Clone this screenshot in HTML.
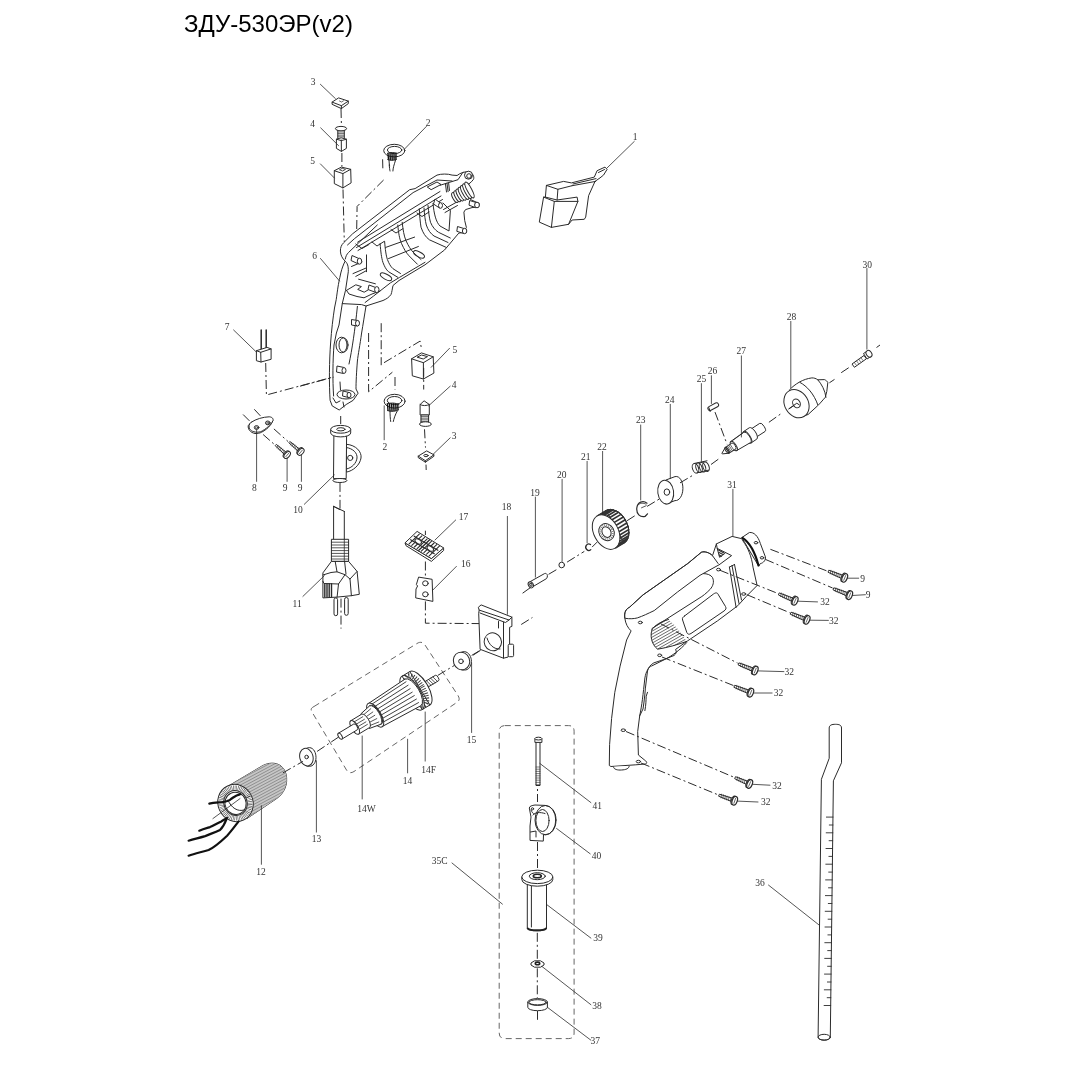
<!DOCTYPE html>
<html><head><meta charset="utf-8">
<style>
html,body{margin:0;padding:0;background:#fff;width:1071px;height:1071px;overflow:hidden}
.title{position:absolute;left:184px;top:10px;font-family:"Liberation Sans",sans-serif;font-size:24px;color:#000;letter-spacing:0px}
svg{position:absolute;left:0;top:0}
body{filter:grayscale(1)}
.l{stroke:#2b2b2b;stroke-width:1;fill:none;stroke-linejoin:round;stroke-linecap:round}
.f{stroke:#2b2b2b;stroke-width:1;fill:#fff;stroke-linejoin:round}
.d{stroke:#2b2b2b;stroke-width:1;fill:none;stroke-dasharray:9 3 2 3}
.h{stroke:#333;fill:none;stroke-linecap:butt}
.g{stroke:#555;stroke-width:0.9;fill:none;stroke-dasharray:6 4}
text{font-family:"Liberation Serif",serif;font-size:9.5px;fill:#333}
</style></head><body>
<div class="title">ЗДУ-530ЭР(v2)</div>
<svg width="1071" height="1071" viewBox="0 0 1071 1071">
<g id="p3top">
<path class="f" d="M332.1,102.1 L338.6,97.9 L348.3,101.1 L341.4,105.7 Z"/>
<path class="l" d="M332.1,102.1 L332.1,104.3 L341.4,108.6 L348.3,103.6 L348.3,101.1 M341.4,105.7 L341.4,108.6"/>
<path style="stroke-width:0.7" class="l" d="M339.5,101 l2,1 l2,-1.2"/>
</g>
<g id="p4top">
<ellipse class="f" cx="341" cy="128.6" rx="5.6" ry="2.2"/>
<path class="l" d="M337.8,130.5 L337.8,138.5 M344.3,130.5 L344.3,138.5"/>
<path style="stroke-width:0.7" class="l" d="M338,132 h6 M338,133.6 h6 M338,135.2 h6 M338,136.8 h6"/>
<path class="f" d="M336.4,139.2 L341.2,137.8 L346.4,139.2 L346.4,148.4 L341.4,151.4 L336.4,148.4 Z"/>
<path class="l" d="M341.3,140 L341.4,151.4 M336.4,139.2 L341.3,140.6 L346.4,139.2"/>
</g>
<g id="p5top">
<path class="f" d="M334.3,170.7 L341.4,167.1 L350.7,169.3 L351.1,182.9 L342.9,187.9 L334.3,183.6 Z"/>
<path class="l" d="M334.3,170.7 L342.9,173.6 L350.7,169.3 M342.9,173.6 L342.9,187.9"/>
<path style="stroke-width:0.8" class="l" d="M339.8,169.6 L342.2,168.3 L345.5,169.4 L343,170.8 Z"/>
</g>
<g id="p2top">
<ellipse class="l" cx="394.3" cy="150.6" rx="10.6" ry="6.3"/>
<ellipse class="l" cx="394.6" cy="150" rx="7.2" ry="3.6"/>
<path class="l" d="M389.2,165 C389.5,168 389.8,170 390,171 M395.6,160 C394,165 393,168 392.9,171 M389,160 C389,162 389.3,164 389.6,166"/>
<path style="stroke-width:1.4;stroke:#111" class="l" d="M388,153.5 L388.5,159.5 M390,153 L390.3,159.8 M392,153.3 L392.2,160 M394,153.5 L394.1,159.8 M396,153.3 L395.9,159.3"/>
<path class="l" d="M387.5,153.3 C390,152 395,152.3 397,153.5 M387.7,159.6 C390,160.6 394,160.6 396.5,159.3"/>
</g>
<g id="labels_top">
<text x="313" y="84.5" text-anchor="middle">3</text>
<text x="312.6" y="127.4" text-anchor="middle">4</text>
<text x="312.6" y="163.7" text-anchor="middle">5</text>
<text x="428.2" y="125.5" text-anchor="middle">2</text>
<path style="stroke-width:0.8" class="l" d="M320.4,84.3 L335.4,98.6 M320.7,127.9 L338.6,145.7 M320.4,163.9 L334.3,177.9 M426.4,126.4 L404.3,149.3"/>
<path class="d" d="M341,109 L341.4,124.5 M341.9,153 L341.9,166.5 M343,189.5 L344.3,242"/>
<path class="d" d="M382.6,159.3 L382.9,170.5 M383.6,180 L357.1,206.4 L356.3,251"/>
</g>

<g id="p6">
<!-- outer outline -->
<path class="f" d="M332.2,405.9 L330.1,400.3 C329,385 329.3,360 330.6,343 C331.5,330 333,318 334.5,308 L336.2,299.7 C337.5,290 338.5,283 339.9,277.3 C341,271 342.5,267 344.2,263 C344.8,262 345.2,261.5 345,261 C342.5,258.5 340.6,255.5 340.4,251.1 C340.3,247.5 341.5,244.8 343.7,242.7 L352.6,233.8 L409.7,189.7 L415.1,188.6 L437,175.1 C441,173.8 448,173.6 452.1,175.1 L457.1,175.5 C460,173 465,171.3 469,171.8 C473,173 474.5,177 473.5,179.3 L471.4,181.8 L467,185.5 L470.5,199.5 L479.2,203.5 L478.6,207 L472,207.6 L465.5,209.6 L463.9,212.1 L464.7,220.5 L466.4,227.5 L463,232.5 L458.8,233.1 L444.5,250 L425,264.8 L399,280.5 L393,285.5 C392.2,289 392,292 391,294.5 C389,297.5 386,299.2 383,300.5 L366,306 C364.5,315 363,325 361.6,333 C360,345 358,355 357.4,361 C356.5,372 356,382 356,389 L358.1,393.2 L353.2,400.3 L346.2,404.5 L339.2,410 Z"/>
<!-- inner handle line -->
<path class="l" d="M333.6,396 C332.5,380 332.8,360 334,345 L336.4,333 L339,325 L342.3,303.4 L345.5,290.4 L348.3,271.7 C348.5,266 347.5,263 345,261"/>
<path class="l" d="M342.3,303.6 L361.6,304.6 L366,306"/>
<!-- inner right line of handle -->
<path class="l" d="M357.4,306.4 C355,330 352,350 349,364"/>
<!-- top rim inner lines -->
<path class="l" d="M345.3,259 C345.8,256 346.8,254.3 348.5,252.5 L377.3,225"/>
<path class="l" d="M347.5,245 L354.3,238.8 L413.1,192.6 L437,180 L452,181"/>
<!-- rail lines -->
<path class="l" d="M357.6,242.2 L440,191.5 M356.5,247.5 L441,196 M358,250.5 L442.5,199.5"/>
<path class="l" d="M355.8,244 L362,248.5 L369,244.5 M372,242 L377,246 L384,241.5 M391,229.5 L396,233 L403,228.6 M417,213 L422,216.5 L429,212"/>
<path class="l" d="M427.6,186.8 L437,182 L441,184.5 L431.5,189.5 Z"/>
<!-- ribs -->
<path class="l" d="M380.1,243.7 C380.8,252 381.5,258 382.9,262.3 C384.5,266.5 386,269.5 388.5,271.7 L397.8,277.3"/>
<path class="l" d="M384.6,241.5 C385.3,249.5 386,255.5 387.4,259.5 C389,263.5 390.5,266.5 393,268.7 L400.5,273.5"/>
<path class="l" d="M397.8,225 C398.5,233 399.5,239 401.6,243.7 C404,249 406,252.5 409,255.8 L417.4,264.2"/>
<path class="l" d="M402.2,222.3 C403,230 404,236 406,240.7 C408.5,246 410.5,249.5 413.5,252.6 L421,259.5"/>
<path class="l" d="M419.3,208.7 C419.6,216 420.2,222 421,227.2 C423,233 425.5,237 429.4,239.8 L446.2,247.4"/>
<path class="l" d="M424,208 C424.5,215 425.2,220.5 426.3,225 C428,230 430.5,233.5 434,236 L448,242.5"/>
<path class="l" d="M428,205.5 C428.6,212.5 429.3,218 430.5,222.3 C432.5,227 435,230 438.5,232.3 L450.3,238"/>
<path class="l" d="M433,203.5 C434,214 436,222 440,226 L449,231 L450.4,210.4 L443,203"/>
<!-- cross lines -->
<path class="l" d="M385.7,247.4 L414.6,237.1 M388.5,258.6 L418.4,246.5 M366.5,254.9 L366.5,271.7"/>
<!-- slot ovals -->
<ellipse class="l" cx="386" cy="276.8" rx="6.3" ry="2.6" transform="rotate(28 386 276.8)"/>
<ellipse class="l" cx="419" cy="254.4" rx="6" ry="2.5" transform="rotate(28 419 254.4)"/>
<!-- lower lip inner line -->
<path class="l" d="M425,262.3 L399.7,277.3 L390.4,282.9 L373.6,296 L365.1,302.5"/>
<!-- platform -->
<path class="l" d="M346.5,290.4 L355.8,284.8 L361.4,286.6 L357.7,289.4 L364.2,292.2 L368,290 M346.5,290.4 L349,294 L357,296.5 L364,297.8 L372,294 L380,291"/>
<path class="l" d="M358.6,279.2 L375.4,283.8"/>
<path class="l" d="M353,273.6 L366.1,268 M355.8,276.4 L366.1,270.8 M351.5,266.5 L362,262"/>
<!-- bosses -->
<path class="f" d="M352,255.5 L360,259 L358.5,264 L351,260.5 Z"/>
<ellipse class="f" cx="359.5" cy="261.2" rx="2.2" ry="3"/>
<path class="f" d="M369,285 L377,288 L376,292.5 L368,289.5 Z"/>
<ellipse class="f" cx="376.8" cy="289.6" rx="2.2" ry="3"/>
<path class="f" d="M435,199 L441,203.5 L439.5,208 L433.5,204 Z"/>
<ellipse class="f" cx="440.5" cy="205.5" rx="2" ry="2.8"/>
<path class="f" d="M469.7,200.5 L477,202.8 L476,207.8 L469,205.2 Z"/>
<ellipse class="f" cx="477" cy="205" rx="2.4" ry="2.8"/>
<path class="f" d="M457.5,226.5 L464.8,228.8 L464,233.6 L456.8,231.3 Z"/>
<ellipse class="f" cx="464.6" cy="231" rx="2.2" ry="2.7"/>
<circle class="f" cx="468.5" cy="175.2" r="4"/>
<circle class="l" cx="469" cy="176" r="2.3"/>
<!-- bellows -->
<ellipse class="f" cx="455.0" cy="197.5" rx="2.3" ry="5.5" transform="rotate(-28 455.0 197.5)"/>
<ellipse class="f" cx="457.4" cy="196.2" rx="2.3" ry="6.0" transform="rotate(-28 457.4 196.2)"/>
<ellipse class="f" cx="459.8" cy="195.0" rx="2.3" ry="6.6" transform="rotate(-28 459.8 195.0)"/>
<ellipse class="f" cx="462.2" cy="193.8" rx="2.3" ry="7.2" transform="rotate(-28 462.2 193.8)"/>
<ellipse class="f" cx="464.7" cy="192.5" rx="2.3" ry="7.7" transform="rotate(-28 464.7 192.5)"/>
<ellipse class="f" cx="467.1" cy="191.2" rx="2.3" ry="8.2" transform="rotate(-28 467.1 191.2)"/>
<ellipse class="f" cx="469.5" cy="190.0" rx="2.3" ry="8.8" transform="rotate(-28 469.5 190.0)"/>
<path class="l" d="M443.5,209.5 L456,202.5 M445,212.5 L457.5,205.5"/>
<path class="l" d="M445.4,183.5 L446.5,192 M447,183.2 L448.1,191.7 M448.6,183 L449.5,190.5"/>
<path class="l" d="M440.3,185.2 L458,179.7 L463,172.2"/>
<!-- handle bosses & ring -->
<path class="f" d="M351.5,319.5 L357.5,320.5 L357.5,326 L351.5,325 Z"/>
<ellipse class="f" cx="357.5" cy="323.2" rx="2" ry="2.8"/>
<ellipse class="f" cx="341.5" cy="345" rx="5.5" ry="7.8"/>
<ellipse class="l" cx="343.5" cy="345" rx="4.5" ry="7.2"/>
<path class="f" d="M337,366 L344,367.5 L343.5,373.5 L336.5,372 Z"/>
<ellipse class="f" cx="344" cy="370.5" rx="2" ry="2.9"/>
<path class="l" d="M340,382 L340.5,390"/>
<ellipse class="f" cx="346" cy="394.5" rx="9" ry="4.5"/>
<path class="f" d="M343,391 L349,392.5 L348.5,397.5 L342.5,396 Z"/>
<ellipse class="f" cx="349" cy="395" rx="2" ry="2.6"/>
<path class="l" d="M333,398 L336,403 L340,401 M343,402 L344,407"/>
</g>
<g id="p6labels">
<text x="314.5" y="258.5" text-anchor="middle">6</text>
<path style="stroke-width:0.8" class="l" d="M320.5,258.5 L339.5,281"/>
<path class="d" d="M300,386.2 L333.6,377.1"/>
<path class="d" d="M368.6,333 L368.6,391.8 L392.4,372.2"/>
<path class="d" d="M381.2,323.2 L381.2,365.2 M384,362.7 L420.1,341.1 L421.4,348.3"/>
</g>

<g id="p5low">
<path class="f" d="M411.6,358.8 L421.4,352.9 L433.2,356.8 L433.9,373.1 L423.4,379 L412.3,375.8 Z"/>
<path class="l" d="M411.6,358.8 L423.4,362.7 L433.2,356.8 M423.4,362.7 L423.4,379"/>
<path class="l" d="M417.5,357 L421.5,355 L427.5,356.6 L423.6,358.8 Z"/>
<text x="454.8" y="353" text-anchor="middle">5</text>
<path style="stroke-width:0.8" class="l" d="M449.5,348.3 L431.2,367.3"/>
</g>
<g id="p4low">
<path class="f" d="M420.1,404.5 L424.1,400.8 L429.3,404.5 L429.3,415 L420.1,415 Z"/>
<path class="l" d="M420.1,404.5 C422,406 427,406 429.3,404.5"/>
<path class="f" d="M421,415 L428.6,415 L428.6,422.8 L421,422.8 Z"/>
<path style="stroke-width:0.7" class="l" d="M421,416.6 h7.6 M421,418.2 h7.6 M421,419.8 h7.6 M421,421.4 h7.6"/>
<ellipse class="f" cx="425.4" cy="424.1" rx="5.9" ry="2.3"/>
<text x="454.1" y="388.3" text-anchor="middle">4</text>
<path style="stroke-width:0.8" class="l" d="M450.2,386.2 L428.6,405.8"/>
</g>
<g id="p3low">
<path class="f" d="M418.2,456.1 L426.7,450.9 L433.9,454.8 L433.9,456.3 L425.4,462.2 L418.2,457.6 Z"/>
<path class="l" d="M418.2,456.1 L425.4,460.7 L433.9,454.8 M425.4,460.7 L425.4,462.2"/>
<ellipse class="l" cx="426" cy="455.6" rx="2.2" ry="1.1"/>
<text x="454.1" y="439.3" text-anchor="middle">3</text>
<path style="stroke-width:0.8" class="l" d="M450.2,437.8 L433.2,454.2"/>
</g>
<g id="p2low">
<ellipse class="l" cx="394.6" cy="401.2" rx="10.5" ry="6.9"/>
<ellipse class="l" cx="394.6" cy="400.5" rx="7.3" ry="4"/>
<path style="stroke-width:1.4;stroke:#111" class="l" d="M387.5,404 L388,410.5 M389.5,403.6 L390,411 M391.6,403.6 L392,411 M393.7,403.8 L394,410.8 M395.8,404 L396,410.5 M397.8,404.3 L398,409.8"/>
<path class="l" d="M387,403.8 C391,402.5 396,402.8 399,404.5 M387.5,410.5 C391,411.8 396,411.5 398.5,409.8"/>
<path class="l" d="M390,411 C390,415 390.3,419 390.7,421.5 M397.3,411 C395,415 393.8,419 393.3,421.5"/>
<text x="384.8" y="449.6" text-anchor="middle">2</text>
<path style="stroke-width:0.8" class="l" d="M384.2,405.8 L384.2,439.8"/>
</g>
<path class="d" d="M423.7,367.9 L423.7,389.5 M424.5,429.3 L425.5,447.6 M426,464.6 L426.2,470 M395,377 L395,389.5"/>

<g id="p7">
<path style="stroke-width:1.5" class="l" d="M261.2,330 L261.2,349 M266.2,330 L266.2,348.5"/>
<path class="f" d="M256.4,350.7 L267.1,347.4 L271.1,348.9 L271.1,359.3 L261,362 L256.4,360.7 Z"/>
<path class="l" d="M256.4,350.7 L260.7,352.3 L271.1,348.9 M260.7,352.3 L261,362"/>
<text x="227.1" y="329.8" text-anchor="middle">7</text>
<path style="stroke-width:0.8" class="l" d="M233.6,330 L256.4,352.1"/>
<path class="d" d="M265.7,363 L266.4,395 L332.9,377.1"/>
</g>
<g id="p8">
<path class="f" d="M248.2,425.7 C247.8,429 250,432.5 255,433.5 C258,433.6 260,433 261.5,432.3 C266,430 271,426 273,420.5 L251,422.4 Z"/>
<path class="f" d="M251,422.4 C256,419 263,417 269.2,416.8 C272.5,417 273.5,419 273,420.5 C271,425 266,429 260.8,431.7 C256,433 251,431.5 249.6,428.9 C248.5,426.5 249,424 251,422.4 Z"/>
<ellipse class="l" cx="256.6" cy="427.5" rx="2.3" ry="1.9"/>
<ellipse style="stroke-width:0.7" class="l" cx="256.6" cy="427.7" rx="1.2" ry="0.9"/>
<ellipse class="l" cx="267.8" cy="422.9" rx="2.3" ry="1.9"/>
<ellipse style="stroke-width:0.7" class="l" cx="267.8" cy="423.1" rx="1.2" ry="0.9"/>
<path class="d" d="M243.1,414.5 L250.1,421.5 M254.3,409.3 L260.8,416.3 M263.1,434.5 L275,445 M273.9,428.9 L288,441.5"/>
<path style="stroke-width:0.8" class="l" d="M256.6,429.9 L256.6,481.4"/>
<text x="254.3" y="491.2" text-anchor="middle">8</text>
</g>
<g id="p9left">
<path class="f" d="M276.3,444.4 L288.1,453.9 L286.3,456.1 L275.1,445.6 Z"/>
<path style="stroke-width:0.6" class="l" d="M278.1,445.3 l-1.2,2.6 M279.6,446.6 l-1.2,2.6 M281.1,447.9 l-1.2,2.6 M282.7,449.2 l-1.2,2.6 M284.2,450.5 l-1.2,2.6 M285.7,451.8 l-1.2,2.6 "/>
<ellipse class="f" cx="286.3" cy="454.2" rx="2.2" ry="4" transform="rotate(41.0 286.3 454.2)"/>
<ellipse class="f" cx="287.2" cy="455.0" rx="2.4" ry="4" transform="rotate(41.0 287.2 455.0)"/>
<path style="stroke-width:0.7" class="l" d="M288.8,453.2 l-3.1,3.6"/>
<path class="f" d="M289.8,441.5 L301.8,450.8 L300.0,453.0 L288.8,442.7 Z"/>
<path style="stroke-width:0.6" class="l" d="M291.7,442.3 l-1.2,2.7 M293.3,443.6 l-1.2,2.7 M294.8,444.9 l-1.2,2.7 M296.3,446.2 l-1.2,2.7 M297.8,447.5 l-1.2,2.7 M299.4,448.8 l-1.2,2.7 "/>
<ellipse class="f" cx="300.0" cy="451.1" rx="2.2" ry="4" transform="rotate(40.2 300.0 451.1)"/>
<ellipse class="f" cx="300.9" cy="451.9" rx="2.4" ry="4" transform="rotate(40.2 300.9 451.9)"/>
<path style="stroke-width:0.7" class="l" d="M302.4,450.1 l-3.1,3.7"/>
<path style="stroke-width:0.8" class="l" d="M287.1,458.6 L287.1,481.4 M301.4,455 L301.4,481.4"/>
<text x="285.2" y="491.2" text-anchor="middle">9</text>
<text x="300.2" y="491.2" text-anchor="middle">9</text>
</g>
<g id="p10">
<path class="f" d="M346.4,444.3 C356,445 362,452 361,458 C360,465 353,471 346.4,472.1 Z"/>
<path class="l" d="M346.4,447.5 C353,448.5 357.5,453 357,458 C356.5,463 352,468 346.4,469"/>
<circle class="l" cx="350.2" cy="457.9" r="2.6"/>
<path class="f" d="M333.9,433.6 L346.6,433.6 L346.2,478.6 L333.5,478.6 Z"/>
<ellipse class="f" cx="339.9" cy="480.5" rx="7" ry="2"/>
<path class="f" d="M330.7,429.3 L330.7,433 A10,3.9 0 0 0 350.7,433 L350.7,429.3 Z"/>
<ellipse class="f" cx="340.7" cy="429.3" rx="10" ry="3.9"/>
<ellipse class="l" cx="340.9" cy="429.3" rx="4.2" ry="1.6"/>
<path class="d" d="M340,482.9 L340,508.6 M340.7,416 L340.7,424"/>
<path style="stroke-width:0.8" class="l" d="M334.3,475 L304.3,504.3"/>
<text x="298" y="512.6" text-anchor="middle">10</text>
</g>
<g id="p11">
<path class="l" d="M333.6,506.4 L333.6,539.3 M344.3,511.4 L344.3,539.3 M333.6,506.4 L344.3,511.4 M333.6,506.4 L339.7,509.5"/>
<path class="f" d="M331.4,539.3 L348.6,539.3 L348.6,561.4 L331.4,561.4 Z"/>
<path style="stroke-width:0.8" class="l" d="M331.4,542.2 h17.2 M331.4,545 h17.2 M331.4,547.8 h17.2 M331.4,550.6 h17.2 M331.4,553.4 h17.2 M331.4,556.2 h17.2 M331.4,559 h17.2 M344.3,539.3 V561.4"/>
<path class="f" d="M331.4,561.4 L348.6,561.4 L357.1,571.4 L359.3,594.3 L351.4,595.7 L337.1,597.1 L322.9,597.9 L322.9,572.9 Z"/>
<path class="l" d="M322.9,575 L331,572.5 L337,571.8 L345,574.7 L350,579 L351.4,595.7 M337,571.8 L335.2,561.4 M344.6,561.4 L346,574 M350,579 L357.1,571.4 M345,574.7 L338.5,584 L337.1,597.1 M338.5,584 L324,583.5 L322.9,581.3"/>
<path style="stroke-width:1.4" class="l" d="M324.8,584.5 L324.8,597 M327,584 L327,597 M329.2,583.8 L329.2,597 M331.5,583.8 L331.5,597"/>
<rect class="f" x="334" y="597.9" width="3.6" height="17.8" rx="1.8"/>
<rect class="f" x="344.6" y="597.5" width="3.6" height="17.8" rx="1.8"/>
<path class="d" d="M341,598.6 L341,628.6"/>
<path style="stroke-width:0.8" class="l" d="M302.9,596.4 L324.3,575.7"/>
<text x="297.1" y="607" text-anchor="middle">11</text>
</g>

<defs><clipPath id="statclip"><path d="M225,788 L262,766 C272,760.5 283,763 286,774 C288.5,784 284,794 276,799 L247,818.5 Z"/></clipPath></defs>
<g id="p12">
<!-- stator cylinder -->
<path class="f" d="M225,788 L262,766 C272,760.5 283,763 286,774 C288.5,784 284,794 276,799 L247,818.5 Z"/>
<path d="M225,788 L262,766 C272,760.5 283,763 286,774 C288.5,784 284,794 276,799 L247,818.5 Z" fill="#c6c6c6" stroke="none"/><g clip-path="url(#statclip)"><path d="M196.96,778.69 L276.42,736.44 M198.18,780.99 L277.64,738.73 M199.40,783.28 L278.86,741.03 M200.62,785.58 L280.09,743.33 M201.84,787.87 L281.31,745.62 M203.06,790.17 L282.53,747.92 M204.28,792.47 L283.75,750.21 M205.50,794.76 L284.97,752.51 M206.72,797.06 L286.19,754.80 M207.94,799.35 L287.41,757.10 M209.16,801.65 L288.63,759.40 M210.38,803.94 L289.85,761.69 M211.61,806.24 L291.07,763.99 M212.83,808.53 L292.29,766.28 M214.05,810.83 L293.51,768.58 M215.27,813.13 L294.73,770.87 M216.49,815.42 L295.95,773.17 M217.71,817.72 L297.17,775.47 M218.93,820.01 L298.39,777.76 M220.15,822.31 L299.62,780.06 M221.37,824.60 L300.84,782.35 M222.59,826.90 L302.06,784.65 M223.81,829.20 L303.28,786.94 M225.03,831.49 L304.50,789.24 M226.25,833.79 L305.72,791.53 M227.47,836.08 L306.94,793.83 M228.69,838.38 L308.16,796.13 M229.91,840.67 L309.38,798.42 M231.14,842.97 L310.60,800.72 M232.36,845.27 L311.82,803.01 M233.58,847.56 L313.04,805.31 " stroke="#777" stroke-width="0.7" fill="none"/></g>
<ellipse class="f" cx="235.5" cy="803" rx="17.5" ry="18.8" transform="rotate(-25 235.5 803)"/>
<ellipse style="stroke-width:5;stroke-dasharray:0.55 0.95;stroke:#444" class="h" cx="235.5" cy="803" rx="14.2" ry="15.3" transform="rotate(-25 235.5 803)"/>
<ellipse class="l" cx="235.5" cy="803" rx="11.6" ry="12.6" transform="rotate(-25 235.5 803)"/>
<ellipse class="f" cx="235.6" cy="803.4" rx="10.5" ry="11.2" transform="rotate(-25 235.6 803.4)"/>
<path class="l" d="M228,800 C231,808 238,812 244,810"/>
<path style="stroke-width:0.8" class="l" d="M212.9,818.6 L240,798.6"/>
<!-- wires -->
<path style="stroke-width:2.2;stroke:#111" class="l" d="M209.3,803.6 C214,802.5 219,802.5 223,802 C227,801.5 229,801 231,799 C234,797 236,795 240,794.3"/>
<path style="stroke-width:2.2;stroke:#111" class="l" d="M199.3,830.7 C203,829 207,828 210,827.1 C214,825.5 218,823 221.4,821.4 C223.5,820 225.5,819 227.1,817.9"/>
<path style="stroke-width:2.2;stroke:#111" class="l" d="M188.6,840.7 C194,839 199,838 204.3,836.4 C210,834 215,832.5 220,830 C223,827 225,823 226.4,819.3"/>
<path style="stroke-width:2.2;stroke:#111" class="l" d="M188.6,855.7 C195,853.5 202,852 208.6,850 C215,847 221,841.5 227.1,835.7 C231,831.5 235,826 238.6,821.4"/>
<path style="stroke-width:0.8" class="l" d="M261.4,805.7 L261.4,864.3"/>
<text x="261" y="874.6" text-anchor="middle">12</text>
</g>
<g id="p13">
<path class="f" d="M306.4,748.2 L309.5,747.6 C314,748 316,753 316,757.5 C316,762.5 313,766.5 309.5,766.3 L306.4,766 Z"/>
<ellipse class="f" cx="306.4" cy="757.1" rx="6.6" ry="8.9" transform="rotate(-15 306.4 757.1)"/>
<circle class="l" cx="306.6" cy="757" r="1.8"/>
<path style="stroke-width:0.8" class="l" d="M316.4,760.7 L316.4,832.1"/>
<text x="316.4" y="842" text-anchor="middle">13</text>
<path class="d" d="M282.9,772.9 L302.9,761.4 M317.1,751.4 L340.3,735.9"/>
</g>
<g id="p14">
<path class="g" d="M314,706.5 L417,643.5 C420,641.5 423,642 425,645 L458,695.5 C460,699 459.5,701 456,703 L354,771.5 C351,773.5 348.5,773 346.5,770 L312,712 C310.5,709.5 311,708 314,706.5 Z"/>
<path class="f" d="M417.4,686.2 L435.4,675.3 A1.30,3.10 -31.0 0 1 438.6,680.7 L420.6,691.5 Z"/>
<path style="stroke-width:0.8" class="l" d="M419.9,684.6 L424.5,689.1 M422.1,683.3 L426.6,687.8 M424.2,682.0 L428.8,686.5 M426.4,680.7 L430.9,685.2 M428.5,679.5 L433.1,683.9 M430.6,678.2 L435.2,682.7 M432.8,676.9 L437.4,681.4 "/>
<ellipse class="f" cx="419.8" cy="688.3" rx="8.19" ry="19.5" transform="rotate(-31.0 419.8 688.3)"/>
<path class="f" d="M402.1,676.2 L409.8,671.6 L429.9,705.0 L422.1,709.6 Z"/>
<ellipse style="stroke-width:6;stroke-dasharray:0.9 1.4;stroke:#3a3a3a" class="h" cx="416.0" cy="690.6" rx="6.85" ry="16.3" transform="rotate(-31.0 416.0 690.6)"/>
<ellipse class="l"  cx="412.1" cy="692.9" rx="8.19" ry="19.50" transform="rotate(-31.0 412.1 692.9)"/>
<ellipse class="f" cx="412.1" cy="692.9" rx="6.30" ry="15.0" transform="rotate(-31.0 412.1 692.9)"/>
<path class="f" d="M368.3,703.6 L405.0,679.1 A6.51,15.50 -31.0 0 1 420.9,705.7 L382.1,726.6 Z"/>
<path style="stroke-width:0.9" class="l" d="M370.0,705.4 L406.0,681.8"/>
<path style="stroke-width:0.9" class="l" d="M371.8,708.4 L408.1,685.2"/>
<path style="stroke-width:0.9" class="l" d="M373.6,711.4 L410.1,688.7"/>
<path style="stroke-width:0.9" class="l" d="M375.4,714.4 L412.2,692.2"/>
<path style="stroke-width:0.9" class="l" d="M377.2,717.4 L414.3,695.6"/>
<path style="stroke-width:0.9" class="l" d="M379.0,720.4 L416.4,699.1"/>
<path style="stroke-width:0.9" class="l" d="M380.8,723.4 L418.5,702.6"/>
<ellipse class="f"  cx="375.2" cy="715.1" rx="5.71" ry="13.60" transform="rotate(-31.0 375.2 715.1)"/>
<ellipse class="l"  cx="375.7" cy="714.8" rx="4.54" ry="10.80" transform="rotate(-31.0 375.7 714.8)"/>
<path class="f" d="M360.6,714.1 L369.7,705.8 A4.54,10.80 -31.0 0 1 380.8,724.3 L369.3,728.5 Z"/>
<path style="stroke-width:0.8" class="l" d="M362.3,715.9 L370.8,708.7"/>
<path style="stroke-width:0.8" class="l" d="M363.8,718.4 L372.8,712.0"/>
<path style="stroke-width:0.8" class="l" d="M365.4,721.0 L374.8,715.3"/>
<path style="stroke-width:0.8" class="l" d="M366.9,723.6 L376.8,718.6"/>
<path style="stroke-width:0.8" class="l" d="M368.5,726.1 L378.8,722.0"/>
<path class="f" d="M350.7,720.8 L361.8,714.1 A3.28,7.80 -31.0 0 1 369.8,727.4 L358.7,734.1 Z"/>
<path style="stroke-width:0.8" class="l" d="M352.5,722.9 L362.8,716.7"/>
<path style="stroke-width:0.8" class="l" d="M354.1,725.5 L364.4,719.3"/>
<path style="stroke-width:0.8" class="l" d="M355.6,728.0 L365.9,721.9"/>
<path style="stroke-width:0.8" class="l" d="M357.2,730.6 L367.4,724.4"/>
<ellipse class="f"  cx="354.7" cy="727.4" rx="3.28" ry="7.80" transform="rotate(-31.0 354.7 727.4)"/>
<path class="f" d="M338.3,733.3 L353.8,724.0 A1.70,3.40 -31.0 0 1 357.3,729.8 L341.9,739.1 Z"/>
<ellipse class="f"  cx="340.1" cy="736.2" rx="1.70" ry="3.40" transform="rotate(-31.0 340.1 736.2)"/>
<path class="d" d="M437.8,675.4 L454.6,665.3 M473.1,655.2 L481,650"/>
<path style="stroke-width:0.8" class="l" d="M362.2,736 L362.2,799 M425.2,712 L425.2,761.1 M407.6,739.2 L407.6,772.9"/>
<text x="366.4" y="812" text-anchor="middle">14W</text>
<text x="428.6" y="772.8" text-anchor="middle">14F</text>
<text x="407.6" y="783.8" text-anchor="middle">14</text>
</g>
<g id="p15">
<path class="f" d="M461.5,652.1 L464.3,651.6 C469,652 471.5,657 471.4,661.5 C471.3,666.5 468.5,670.3 464.3,670 L461.5,669.9 Z"/>
<ellipse class="f" cx="461.5" cy="661" rx="8.1" ry="8.9" transform="rotate(-20 461.5 661)"/>
<circle class="l" cx="461" cy="661.3" r="2.3"/>
<path style="stroke-width:0.8" class="l" d="M471.6,663 L471.6,732.5"/>
<text x="471.4" y="742.6" text-anchor="middle">15</text>
<path class="d" d="M471.7,655.4 L481.1,649.8"/>
</g>
<g id="p16">
<path class="f" d="M418.6,577.1 L432.1,579.3 L432.9,601.4 L415.7,597.9 L416,589 L417.6,586 L416.4,584.5 Z"/>
<ellipse class="l" cx="425.4" cy="583.3" rx="2.8" ry="2.5"/>
<ellipse class="l" cx="425.4" cy="594.3" rx="2.8" ry="2.5"/>
<path style="stroke-width:0.8" class="l" d="M432.9,590 L456.4,566.4"/>
<text x="465.7" y="567" text-anchor="middle">16</text>
</g>
<g id="p17">
<path class="f" d="M405.0,542.9 L431.4,558.6 L443.6,547.9 L443.6,550.5 L431.4,561.4 L406.0,545.7 Z"/>
<path class="f" d="M405.0,542.9 L417.1,531.4 L443.6,547.9 L431.4,558.6 Z"/>
<path style="stroke-width:1.1" class="l" d="M409.1,543.9 L419.3,534.2 M411.8,545.4 L421.9,535.8 M414.4,547.0 L424.6,537.3 M417.1,548.6 L427.2,538.9 M421.3,551.1 L431.4,541.4 M423.9,552.7 L434.1,543.0 M426.6,554.2 L436.7,544.6 M429.2,555.8 L439.4,546.1 "/>
<path style="stroke-width:1.1" class="l" d="M410.6,539.7 L434.3,553.8 M414.2,536.2 L437.9,550.3 "/>
<path style="stroke-width:1.3" class="l" d="M418.8,550.2 L429.7,539.8"/>
<ellipse class="f" cx="418.2" cy="541.4" rx="3.6" ry="2.1" transform="rotate(31 418.2 541.4)"/>
<ellipse class="f" cx="430.3" cy="548.6" rx="3.6" ry="2.1" transform="rotate(31 430.3 548.6)"/>
<path style="stroke-width:0.8" class="l" d="M435,540 L455.7,520"/>
<text x="463.6" y="520.3" text-anchor="middle">17</text>
<path class="d" d="M425.4,530.7 L425.4,535 M425.4,561.5 L425.4,576 M425.4,601.4 L425.4,623.2 L481.4,623.6"/>
</g>
<g id="p18">
<path class="f" d="M478.3,607.3 L481.1,604.9 L511.9,617.1 L511.9,626.4 L509.6,627.3 L509.6,644.2 L508.2,657 L503.5,658.2 L480.1,649.3 L478.7,613.3 L479.2,610.1 Z"/>
<path class="l" d="M479.2,610.1 L509.1,620 L511.9,617.1 M509.1,620 L505.4,622.5 L480,613 M503.5,622.2 L503.5,658.2 M498.5,621.5 L498.5,628"/>
<ellipse class="f" cx="492.8" cy="641.8" rx="8.6" ry="9" transform="rotate(-25 492.8 641.8)"/>
<path class="l" d="M487,638 C489,645 494,649.5 500,649"/>
<rect class="f" x="508.2" y="644.2" width="5.4" height="12.5" rx="1.2"/>
<path style="stroke-width:0.8" class="l" d="M507.4,516.4 L507.4,614.3"/>
<text x="506.4" y="509.8" text-anchor="middle">18</text>
<path class="d" d="M521.2,624.5 L532.4,617.5"/>
</g>

<g id="p1">
<path class="f" d="M571.4,182.9 L594.3,177.1 L597.1,170.7 L605,167.1 L607.1,169.3 L603.6,175 L600,177.9 L595,181.4 L588.6,195.7 L585.7,217.1 L584.3,219.3 L572.1,220 L568.6,224.3 L551.4,227.4 L539.3,222.1 L543.6,197.1 L545.4,197.1 L546.4,185.4 L563.6,181.4 Z"/>
<path class="l" d="M546.4,185.4 L557.9,189.3 L572.1,185.7 M557.9,189.3 L557.1,200 M545.4,197.1 L557.1,200 L577.1,197.1 L577.9,201.4 L568.6,224.3 M554.3,201.4 L551.4,227.4 M543.6,197.1 L554.3,201.4 L577.9,201.4 M572.1,185.7 L595.7,181.4"/>
<path class="l" d="M573,184 L596,178.6 M598.5,172.5 L604.5,169.5"/>
<path style="stroke-width:0.8" class="l" d="M607.1,167.9 L634.3,141.4"/>
<text x="635.2" y="140.2" text-anchor="middle">1</text>
</g>
<g id="p19">
<path class="f" d="M529.5,582 L544.5,573.6 C547,572.5 548.5,576 546.5,578.6 L532,587.2 Z"/>
<ellipse class="f" cx="530.8" cy="584.8" rx="2.4" ry="3.2" transform="rotate(-30 530.8 584.8)"/>
<ellipse class="l" cx="530.9" cy="584.8" rx="1.1" ry="1.5" transform="rotate(-30 530.9 584.8)"/>
<path class="l" d="M522.9,593 L530,587.9"/>
<path style="stroke-width:0.8" class="l" d="M535.4,497.1 L535.4,577.1"/>
<text x="535" y="495.5" text-anchor="middle">19</text>
</g>
<g id="p20_21">
<circle class="l" cx="561.7" cy="565" r="2.8"/>
<path style="stroke-width:0.8" class="l" d="M562.1,479.3 L562.1,561.4"/>
<text x="561.7" y="478.4" text-anchor="middle">20</text>
<path style="stroke-width:1.3" class="l" d="M590.5,544.6 A3,3.2 0 1 0 590.8,549.6"/>
<path style="stroke-width:0.8" class="l" d="M587.1,461.4 L587.1,542.9"/>
<text x="585.7" y="460.3" text-anchor="middle">21</text>
</g>
<g id="p22">
<ellipse class="f" cx="615.1" cy="526.7" rx="12.2" ry="18.4" transform="rotate(-28 615.1 526.7)"/>
<path class="f" d="M597.1,516.1 L606.1,510.7 L624.1,542.7 L615.1,548.1 Z"/>
<ellipse class="l" cx="615.1" cy="526.7" rx="12.2" ry="18.4" transform="rotate(-28 615.1 526.7)"/>
<path style="stroke-width:1.6;stroke:#333" class="l" d="M597.1,516.1 L606.1,510.7 M599.3,515.2 L608.3,509.8 M601.7,514.9 L610.7,509.5 M604.2,515.2 L613.2,509.8 M606.9,516.2 L615.9,510.8 M609.5,517.7 L618.5,512.3 M612.0,519.8 L621.0,514.4 M614.3,522.4 L623.3,517.0 M616.2,525.3 L625.2,519.8 M617.8,528.4 L626.8,523.0 M619.0,531.7 L628.0,526.3 M619.7,535.0 L628.7,529.6 M619.9,538.2 L628.9,532.7 M619.6,541.1 L628.6,535.7 M618.8,543.8 L627.8,538.3 M617.5,546.0 L626.5,540.6 M615.8,547.7 L624.8,542.3 "/>
<ellipse class="f" cx="606.1" cy="532.1" rx="12.2" ry="18.4" transform="rotate(-28 606.1 532.1)"/>
<ellipse class="l" cx="606.5" cy="532.1" rx="7.5" ry="8.8" transform="rotate(-28 606.5 532.1)"/>
<ellipse style="stroke-width:1.6;stroke-dasharray:0.8 1.2;stroke:#666" class="h" cx="606.5" cy="532.1" rx="6" ry="7.2" transform="rotate(-28 606.5 532.1)"/>
<ellipse class="l" cx="606.5" cy="532.1" rx="4.3" ry="5.6" transform="rotate(-28 606.5 532.1)"/>
<path style="stroke-width:0.8" class="l" d="M602.6,451.4 L602.6,514.3"/>
<text x="602.1" y="449.8" text-anchor="middle">22</text>
</g>
<g id="p23">
<path style="stroke-width:1.2" class="l" d="M647,503.2 C643,500 637.5,502 636.8,508 C636.2,514 640,517.5 645,516.5 L647.5,513.8"/>
<path style="stroke-width:0.8" class="l" d="M637.8,505 C640,503 643.5,502.5 646,504.2 M641.5,507.8 L646.2,505.7"/>
<path style="stroke-width:0.8" class="l" d="M640.7,425 L640.7,500"/>
<text x="640.7" y="423.4" text-anchor="middle">23</text>
</g>
<g id="p24">
<path class="f" d="M665.7,480.1 L675,476.6 C680,475.5 683,482 682.9,488.6 C682.8,496 679,501 675,500.6 L665.7,504.1 Z"/>
<ellipse class="f" cx="665.7" cy="492.1" rx="7.9" ry="12" transform="rotate(-8 665.7 492.1)"/>
<ellipse class="l" cx="666.9" cy="492.1" rx="2.8" ry="3.2"/>
<path style="stroke-width:0.8" class="l" d="M670.3,404.3 L670.3,478.6"/>
<text x="669.7" y="403.4" text-anchor="middle">24</text>
</g>
<g id="p25">
<ellipse class="l" cx="695.5" cy="468.3" rx="3" ry="5" transform="rotate(-20 695.5 468.3)"/>
<ellipse class="l" cx="699" cy="467.8" rx="3" ry="5" transform="rotate(-20 699 467.8)"/>
<ellipse class="l" cx="702.5" cy="467.3" rx="3" ry="5" transform="rotate(-20 702.5 467.3)"/>
<ellipse class="l" cx="706" cy="466.8" rx="3" ry="5" transform="rotate(-20 706 466.8)"/>
<path class="l" d="M694,463.5 L707,460.8 M697,472.8 L709,470"/>
<path style="stroke-width:0.8" class="l" d="M701.4,383.6 L701.4,461.4"/>
<text x="701.4" y="382" text-anchor="middle">25</text>
</g>
<g id="p26">
<rect class="f" x="707.5" y="404.6" width="11.5" height="4.2" rx="2" transform="rotate(-28 713.2 406.7)"/>
<path class="l" d="M710.2,411.5 L708.8,407.5" />
<path style="stroke-width:0.8" class="l" d="M711.4,375.7 L711.4,403.5"/>
<text x="712.6" y="374" text-anchor="middle">26</text>
<path class="d" d="M715,412.1 L727.1,444.3"/>
</g>
<g id="p27">
<path class="f" d="M750.5,429.4 L759.7,423.4 A2.02,4.80 -33.0 0 1 765.0,431.5 L755.7,437.5 Z"/>
<ellipse class="f"  cx="753.1" cy="433.4" rx="2.02" ry="4.80" transform="rotate(-33.0 753.1 433.4)"/>
<path class="f" d="M743.6,431.6 L749.4,427.7 A2.86,6.80 -33.0 0 1 756.8,439.1 L751.0,443.0 Z"/>
<ellipse class="f"  cx="747.3" cy="437.3" rx="2.86" ry="6.80" transform="rotate(-33.0 747.3 437.3)"/>
<path class="f" d="M730.9,441.4 L743.9,432.1 A2.60,6.20 -33.0 0 1 750.6,442.5 L736.8,450.5 Z"/>
<ellipse class="f"  cx="733.8" cy="446.0" rx="2.27" ry="5.40" transform="rotate(-33.0 733.8 446.0)"/>
<path style="stroke-width:0.7" class="l" d="M732.7,440.5 L743.2,432.8"/>
<path class="f" d="M725.3,447.5 L731.9,443.0 A1.51,3.60 -33.0 0 1 735.8,449.0 L729.0,453.2 Z"/>
<path style="stroke-width:0.7" class="l" d="M726.1,446.9 L729.8,452.6"/>
<path style="stroke-width:0.7" class="l" d="M727.5,446.1 L731.2,451.8"/>
<path style="stroke-width:0.7" class="l" d="M728.8,445.2 L732.5,450.9"/>
<path style="stroke-width:0.7" class="l" d="M730.1,444.3 L733.8,450.0"/>
<path class="f" d="M721.9,453.3 L725.3,447.5 L729.0,453.2 L722.3,453.9 Z"/>
<ellipse class="l"  cx="727.1" cy="450.3" rx="1.43" ry="3.40" transform="rotate(-33.0 727.1 450.3)"/>
<path style="stroke-width:0.8" class="l" d="M741.4,355.9 L741.4,437"/>
<text x="741.2" y="354" text-anchor="middle">27</text>
</g>
<g id="p28">
<path class="f" d="M789.4,389.9 C795,384 803,379 811.8,377.9 C814,377.8 816,378.5 817.8,379.8 L824.5,379.6 C826,380.3 827.5,381.5 827.8,382.6 L826.8,391.4 L825.3,397.3 C822,401 820,403.5 817.8,405.6 L808.1,414.5 L800,417 Z"/>
<path class="l" d="M799.9,382.4 C807,386 814,394 817.8,404.8 M817.8,379.8 C821.5,384 825,390 826,397.3"/>
<ellipse class="f" cx="796.5" cy="403.7" rx="11.8" ry="14.8" transform="rotate(-30 796.5 403.7)"/>
<ellipse class="l" cx="796.5" cy="403.4" rx="3.6" ry="4.6" transform="rotate(-30 796.5 403.4)"/>
<path class="l" d="M788.7,408.9 L796.8,403.2 L799.5,405"/>
<path style="stroke-width:0.8" class="l" d="M790.8,321.4 L790.8,387.8"/>
<text x="791.6" y="319.8" text-anchor="middle">28</text>
<path class="d" d="M768.9,422.3 L780.7,413.9 M789,408.8 L794,405.5 M829.4,382.8 L834.5,379.4 M841.2,372.7 L851.3,366 M876.5,347.5 L880,345"/>
</g>
<g id="p30">
<path class="f" d="M852,364 L864,355.5 L866.4,358.8 L854.4,367.3 Z"/>
<path style="stroke-width:0.6" class="l" d="M854.3,362.4 l2,2.8 M856.5,360.8 l2,2.8 M858.7,359.2 l2,2.8 M860.9,357.6 l2,2.8"/>
<path class="f" d="M863.5,353.5 L867.5,351 L871,356.5 L867,359 Z"/>
<ellipse class="f" cx="869" cy="353.8" rx="2.6" ry="3.6" transform="rotate(-35 869 353.8)"/>
<path style="stroke-width:0.8" class="l" d="M866.9,268.5 L866.9,349.2"/>
<text x="867.2" y="267.6" text-anchor="middle">30</text>
</g>
<path class="d" d="M548.6,574.3 L557.1,569.3 M567.1,562.1 L584.3,551.4 M592.1,547.1 L597.1,542.1 M627.1,520.7 L637.1,514.3 M647.1,506.4 L660,498.6 M680,482.9 L692.1,475.7 M711,464.5 L720,458"/>

<g id="p31">
<!-- nose ring behind -->
<path class="f" d="M741.8,537.6 L749.4,532.5 C754,532 758,536 760.3,543.4 L765.4,556.9 C766,560 763.5,563 760.3,563.6 L758.7,566.1 Z"/>
<path style="stroke-width:2.2;stroke:#111" class="l" d="M742.5,537.8 C749,542 755,552 758.5,565.5"/>
<ellipse class="l" cx="756" cy="542.7" rx="1.8" ry="1.2"/>
<ellipse class="l" cx="762" cy="557.8" rx="1.8" ry="1.2"/>
<!-- main outline -->
<path class="f" d="M624.8,618 C624,612 626,609 629.6,607.2 L643,594.9 L665.4,579.2 L687.8,563.5 L701.3,552.3 C703,551.5 705,551.8 706.9,552.3 C709,553 711,554 712.5,555.7 L716.4,543.9 L732.1,536.4 L741.8,538.7 L743,541 C748,548 751.5,556 753,567.1 L757.1,585.5 L746.2,596.5 L737.8,605.7 L717.6,620.8 L687.4,641 L675.6,649.4 C677,652 676,654 674,655.5 L663.9,659.5 L653.8,662.9 C650,665 648,668 647.5,671 L645.4,688.1 L644.9,694 L644,702 L643,709 L639.7,715.8 L637.7,731.5 L638.4,755 L644.9,760.3 C647.5,762 647,764 644.9,764 L635.8,764.8 L610.9,766.5 L609.3,765.5 L609.6,744.6 L611.6,718.4 L614.8,692.3 L620.1,666.1 L626.6,640 L631.1,630.9 C628,628 625.5,624 624.8,618 Z"/>
<!-- foot -->
<path class="f" d="M613.6,766.8 C613.5,769.5 618,770.3 621.4,770 C626,769.8 629,768.5 629.2,766"/>
<!-- upper lobe -->
<path class="l" d="M624.8,618 C624,612 626,609 629.6,607.2 L643,594.9 L665.4,579.2 L687.8,563.5 L701.3,552.3 C703,551.5 705,551.8 706.9,552.3 C709,553 711,554 712.5,555.7 L718.1,563.5"/>
<path class="l" d="M625.6,618.4 C630,619 634,618.8 637.4,617.9 C643,616 648,613.5 654.2,610.6 L677.5,592 L700,575.3 L719.4,564.6"/>
<path class="l" d="M716.4,543.9 L717.2,548.4 L731.6,555.6 L719.4,564.6 M717.2,548.4 L719.6,557.3 L725,553.3"/>
<path style="stroke-width:1.2" class="l" d="M718.5,550 L723.5,552.8 M719,552.5 L723,554.5 M719.3,555 L721.5,556.2"/>
<!-- middle band -->
<path class="l" d="M703.5,573.6 C707,573.5 711,575 712.5,577.5 C714.5,582 713,586 710.2,589.3 C706,593.5 703,596 699,598.3 L671,616.2 L652,628.5"/>
<!-- side panel -->
<path class="l" d="M684.5,616 L713.5,594 C716,592.3 717.5,592.5 718.5,595 L725.5,606.5 C726.5,608.5 726,609.5 724,611 L691,633.5 C689,634.8 687.5,634.2 686.8,632.5 L682.6,620 C682,618 682.8,617.2 684.5,616 Z"/>
<!-- vent hatch -->
<defs><clipPath id="ventclip"><path d="M652,629.6 C650,635 651,644 657.6,649.2 C668,647.5 678,644.5 686.7,641.4 C682,634 676,626 668.5,619.5 C661,621.5 655,625 652,629.6 Z"/></clipPath></defs>
<path class="l" d="M652,629.6 C650,635 651,644 657.6,649.2 C668,647.5 678,644.5 686.7,641.4 M652,629.6 C655,625 661,621.5 668.5,619.5"/>
<g clip-path="url(#ventclip)"><path style="stroke-width:0.7" class="l" d="M640,650 l60,-34 M640,653 l60,-34 M640,656 l60,-34 M640,659 l60,-34 M640,662 l60,-34 M640,665 l60,-34 M640,668 l60,-34 M640,647 l60,-34 M640,644 l60,-34 M640,641 l60,-34 M640,638 l60,-34 M640,635 l60,-34 M640,632 l60,-34"/></g>
<!-- vent stripes near nose -->
<path class="l" d="M729.4,567.1 L736.1,607.4 M732,565.5 L739,603.5 M734.5,564.5 L741.5,600 M729.4,567.1 L734.5,564.5"/>
<!-- trigger contour -->
<path class="l" d="M639.7,715.8 C642,705 643,695 644.9,677.9 C646,671 649,667 651.4,666.1 L664.5,659.6 C672,656 680,650 686.7,642.6"/>
<path class="l" d="M644.9,710.6 C646,705 646,700 646.2,696.2 L647.5,692.3"/>
<!-- holes -->
<ellipse class="l" cx="718.5" cy="569.6" rx="2" ry="1.3"/>
<ellipse class="l" cx="743.7" cy="594" rx="2" ry="1.3"/>
<ellipse class="l" cx="640.3" cy="622.5" rx="2" ry="1.3"/>
<ellipse class="l" cx="659.7" cy="655.3" rx="2" ry="1.3"/>
<ellipse class="l" cx="623.3" cy="730.2" rx="2.2" ry="1.3"/>
<ellipse class="l" cx="638.4" cy="761.6" rx="2.2" ry="1.3"/>
<path style="stroke-width:0.8" class="l" d="M732.9,489.3 L732.9,536"/>
<text x="732.1" y="487.5" text-anchor="middle">31</text>
</g>
<g id="screws">
<!-- dash-dot lines -->
<path class="d" d="M770.4,549.3 L827.6,571.2 M765.4,559.4 L832.6,588 M720,570.3 L778,593.5 M746.9,594.7 L789.7,612.7 M661,624 L737.6,663.1 M662,657 L733.4,685.5 M626,731.5 L735.1,777.7 M641,763 L719,795.2"/>
</g>

<g id="screwparts">
<path class="f" d="M828.8,570.2 L845.4,576.2 L844.0,579.6 L828.0,572.2 Z"/>
<path style="stroke-width:0.7" class="l" d="M830.9,570.3 l-0.6,3.6 M832.8,571.1 l-0.6,3.6 M834.6,571.8 l-0.6,3.6 M836.5,572.6 l-0.6,3.6 M838.3,573.3 l-0.6,3.6 M840.2,574.1 l-0.6,3.6 M842.0,574.9 l-0.6,3.6 "/>
<ellipse class="f" cx="843.6" cy="577.4" rx="2.2" ry="4.5" transform="rotate(22.3 843.6 577.4)"/>
<ellipse style="stroke-width:1.2" class="f" cx="844.7" cy="577.9" rx="2.5" ry="4.5" transform="rotate(22.3 844.7 577.9)"/>
<path style="stroke-width:0.7" class="l" d="M845.7,575.5 l-2.0,4.8"/>
<path style="stroke-width:0.8" class="l" d="M847.3,578.2 L858.7,578.2"/>
<text x="862.5" y="581.5" text-anchor="middle">9</text>
<path class="f" d="M833.8,587.8 L850.4,593.5 L849.0,596.9 L833.0,589.8 Z"/>
<path style="stroke-width:0.7" class="l" d="M835.9,587.9 l-0.6,3.6 M837.8,588.6 l-0.6,3.6 M839.6,589.3 l-0.6,3.6 M841.5,590.0 l-0.6,3.6 M843.4,590.8 l-0.6,3.6 M845.2,591.5 l-0.6,3.6 M847.1,592.2 l-0.6,3.6 "/>
<ellipse class="f" cx="848.6" cy="594.8" rx="2.2" ry="4.5" transform="rotate(21.4 848.6 594.8)"/>
<ellipse style="stroke-width:1.2" class="f" cx="849.7" cy="595.2" rx="2.5" ry="4.5" transform="rotate(21.4 849.7 595.2)"/>
<path style="stroke-width:0.7" class="l" d="M850.7,592.8 l-1.9,4.8"/>
<path style="stroke-width:0.8" class="l" d="M852.3,595.5 L865.4,594.7"/>
<text x="868.2" y="598.0" text-anchor="middle">9</text>
<path class="f" d="M779.2,592.9 L795.8,599.2 L794.4,602.6 L778.4,594.9 Z"/>
<path style="stroke-width:0.7" class="l" d="M781.3,593.0 l-0.7,3.6 M783.2,593.8 l-0.7,3.6 M785.0,594.6 l-0.7,3.6 M786.9,595.4 l-0.7,3.6 M788.7,596.2 l-0.7,3.6 M790.5,597.0 l-0.7,3.6 M792.4,597.8 l-0.7,3.6 "/>
<ellipse class="f" cx="794.0" cy="600.4" rx="2.2" ry="4.5" transform="rotate(23.2 794.0 600.4)"/>
<ellipse style="stroke-width:1.2" class="f" cx="795.1" cy="600.9" rx="2.5" ry="4.5" transform="rotate(23.2 795.1 600.9)"/>
<path style="stroke-width:0.7" class="l" d="M796.1,598.5 l-2.1,4.8"/>
<path style="stroke-width:0.8" class="l" d="M797.7,601.2 L817.5,601.9"/>
<text x="825.0" y="605.2" text-anchor="middle">32</text>
<path class="f" d="M791.0,612.2 L807.8,618.2 L806.4,621.6 L790.2,614.2 Z"/>
<path style="stroke-width:0.7" class="l" d="M793.1,612.3 l-0.6,3.6 M795.0,613.0 l-0.6,3.6 M796.8,613.8 l-0.6,3.6 M798.7,614.5 l-0.6,3.6 M800.5,615.3 l-0.6,3.6 M802.4,616.0 l-0.6,3.6 M804.2,616.8 l-0.6,3.6 "/>
<ellipse class="f" cx="806.0" cy="619.4" rx="2.2" ry="4.5" transform="rotate(22.1 806.0 619.4)"/>
<ellipse style="stroke-width:1.2" class="f" cx="807.1" cy="619.9" rx="2.5" ry="4.5" transform="rotate(22.1 807.1 619.9)"/>
<path style="stroke-width:0.7" class="l" d="M808.1,617.5 l-2.0,4.8"/>
<path style="stroke-width:0.8" class="l" d="M809.7,620.2 L828.4,620.4"/>
<text x="833.8" y="623.7" text-anchor="middle">32</text>
<path class="f" d="M738.9,662.9 L755.9,668.9 L754.5,672.3 L738.1,664.9 Z"/>
<path style="stroke-width:0.7" class="l" d="M741.0,663.0 l-0.6,3.6 M742.9,663.7 l-0.6,3.6 M744.7,664.5 l-0.6,3.6 M746.6,665.2 l-0.6,3.6 M748.5,666.0 l-0.6,3.6 M750.3,666.7 l-0.6,3.6 M752.2,667.4 l-0.6,3.6 "/>
<ellipse class="f" cx="754.1" cy="670.2" rx="2.2" ry="4.5" transform="rotate(21.9 754.1 670.2)"/>
<ellipse style="stroke-width:1.2" class="f" cx="755.2" cy="670.6" rx="2.5" ry="4.5" transform="rotate(21.9 755.2 670.6)"/>
<path style="stroke-width:0.7" class="l" d="M756.2,668.2 l-1.9,4.8"/>
<path style="stroke-width:0.8" class="l" d="M757.8,670.9 L783.9,671.6"/>
<text x="789.2" y="674.9" text-anchor="middle">32</text>
<path class="f" d="M734.7,685.3 L751.5,691.0 L750.1,694.4 L733.9,687.3 Z"/>
<path style="stroke-width:0.7" class="l" d="M736.8,685.3 l-0.6,3.6 M738.7,686.1 l-0.6,3.6 M740.5,686.8 l-0.6,3.6 M742.4,687.5 l-0.6,3.6 M744.3,688.2 l-0.6,3.6 M746.1,689.0 l-0.6,3.6 M748.0,689.7 l-0.6,3.6 "/>
<ellipse class="f" cx="749.7" cy="692.3" rx="2.2" ry="4.5" transform="rotate(21.2 749.7 692.3)"/>
<ellipse style="stroke-width:1.2" class="f" cx="750.8" cy="692.7" rx="2.5" ry="4.5" transform="rotate(21.2 750.8 692.7)"/>
<path style="stroke-width:0.7" class="l" d="M751.7,690.3 l-1.9,4.8"/>
<path style="stroke-width:0.8" class="l" d="M753.4,693.0 L772.1,693.0"/>
<text x="778.5" y="696.3" text-anchor="middle">32</text>
<path class="f" d="M735.5,776.7 L750.4,782.3 L749.0,785.7 L734.7,778.7 Z"/>
<path style="stroke-width:0.7" class="l" d="M737.6,776.8 l-0.7,3.6 M739.5,777.6 l-0.7,3.6 M741.3,778.4 l-0.7,3.6 M743.2,779.2 l-0.7,3.6 M745.0,780.0 l-0.7,3.6 M746.8,780.8 l-0.7,3.6 "/>
<ellipse class="f" cx="748.6" cy="783.5" rx="2.2" ry="4.5" transform="rotate(23.3 748.6 783.5)"/>
<ellipse style="stroke-width:1.2" class="f" cx="749.7" cy="784.0" rx="2.5" ry="4.5" transform="rotate(23.3 749.7 784.0)"/>
<path style="stroke-width:0.7" class="l" d="M750.7,781.6 l-2.1,4.8"/>
<path style="stroke-width:0.8" class="l" d="M752.3,784.3 L770.0,785.2"/>
<text x="776.9" y="788.5" text-anchor="middle">32</text>
<path class="f" d="M719.4,794.2 L735.3,799.1 L734.1,802.5 L718.6,796.2 Z"/>
<path style="stroke-width:0.7" class="l" d="M721.5,794.2 l-0.5,3.7 M723.4,794.8 l-0.5,3.7 M725.3,795.5 l-0.5,3.7 M727.1,796.2 l-0.5,3.7 M729.0,796.9 l-0.5,3.7 M730.9,797.5 l-0.5,3.7 M732.8,798.2 l-0.5,3.7 "/>
<ellipse class="f" cx="733.6" cy="800.4" rx="2.2" ry="4.5" transform="rotate(19.6 733.6 800.4)"/>
<ellipse style="stroke-width:1.2" class="f" cx="734.7" cy="800.8" rx="2.5" ry="4.5" transform="rotate(19.6 734.7 800.8)"/>
<path style="stroke-width:0.7" class="l" d="M735.6,798.4 l-1.7,4.9"/>
<path style="stroke-width:0.8" class="l" d="M737.3,801.1 L758.0,802.0"/>
<text x="765.7" y="805.3" text-anchor="middle">32</text>
</g>

<g id="p35">
<path class="g" d="M504.8,725.6 L568.5,725.6 Q574.1,725.6 574.1,731.2 L574.1,1033 Q574.1,1038.6 568.5,1038.6 L504.8,1038.6 Q499.2,1038.6 499.2,1033 L499.2,731.2 Q499.2,725.6 504.8,725.6 Z"/>
<path class="d" d="M537.5,743 L537.5,802 M537.5,842 L537.5,872 M537.3,932.8 L537.3,961.2 M537.3,968.3 L537.3,998.5 M537.5,1010.9 L537.5,1019.8"/>
<!-- 41 bolt -->
<rect class="f" x="536" y="742" width="4" height="43.5"/>
<path style="stroke-width:0.6" class="l" d="M536,767 h4 M536,769.2 h4 M536,771.4 h4 M536,773.6 h4 M536,775.8 h4 M536,778 h4 M536,780.2 h4 M536,782.4 h4 M536,784.6 h4"/>
<path class="f" d="M534.9,738.6 L541.9,738.6 L541.9,742.4 L534.9,742.4 Z"/>
<ellipse class="f" cx="538.4" cy="738.6" rx="3.5" ry="1.4"/>
<path style="stroke-width:0.8" class="l" d="M539.8,763.4 L590.9,802.6"/>
<text x="597.2" y="808.8" text-anchor="middle">41</text>
<!-- 40 clamp -->
<path class="f" d="M529.3,808 C529.5,806 532,805.5 535,805 L545,805.4 C551,806 556,811 556,820 C556,829 551,834.8 545,834.8 L543.5,834.5 L543.3,841.1 L530,840.4 L530,826 L531,817 Z"/>
<ellipse class="l" cx="545.4" cy="820.1" rx="10.4" ry="14.6"/>
<ellipse class="l" cx="542.5" cy="820.5" rx="6.6" ry="11"/>
<path class="l" d="M533,815 C535,812 540,812 545,813.5 M530.5,832 L536,831 L536,837 M531,810 C532,812.5 533,813.5 534,814"/>
<circle class="l" cx="532.5" cy="808.8" r="1.1"/>
<path style="stroke-width:0.8" class="l" d="M556.6,828.5 L590.2,853.8"/>
<text x="596.5" y="859.3" text-anchor="middle">40</text>
<!-- 39 handle -->
<path class="f" d="M527.3,882 L546.5,882 L546.5,928.3 A9.6,2.5 0 0 1 527.3,928.3 Z"/>
<path class="l" d="M531.4,884 L531.4,927"/>
<path style="stroke-width:2;stroke:#222" class="l" d="M527.8,928.5 A9.4,2.4 0 0 0 546,928.5"/>
<path class="f" d="M521.8,876.9 L521.8,879.5 A15.5,6.7 0 0 0 552.8,879.5 L552.8,876.9 Z"/>
<ellipse class="f" cx="537.3" cy="876.9" rx="15.5" ry="6.7"/>
<ellipse class="l" cx="537.3" cy="876.2" rx="8" ry="3.5"/>
<ellipse style="stroke-width:1.6;stroke:#222" class="l" cx="537.3" cy="876" rx="4" ry="1.8"/>
<path style="stroke-width:0.8" class="l" d="M546.5,904.4 L590.9,938.1"/>
<text x="598" y="941.4" text-anchor="middle">39</text>
<!-- 38 nut -->
<path class="f" d="M531,963 L534.5,960.8 L540.5,960.8 L544,963 L544,965 L540.5,967.2 L534.5,967.2 L531,965 Z"/>
<ellipse style="stroke-width:1.6;stroke:#222" class="l" cx="537.5" cy="963.4" rx="2.2" ry="1.3"/>
<path style="stroke-width:0.8" class="l" d="M542,966.5 L590.9,1004.7"/>
<text x="597.1" y="1009" text-anchor="middle">38</text>
<!-- 37 ring -->
<path class="f" d="M527.8,1002 L527.8,1007.3 A9.8,3.4 0 0 0 547.4,1007.3 L547.4,1002 Z"/>
<ellipse class="f" cx="537.6" cy="1002" rx="9.8" ry="3.4"/>
<ellipse class="l" cx="537.6" cy="1002.3" rx="8.6" ry="2.6"/>
<path style="stroke-width:0.8" class="l" d="M547.4,1007.3 L590.9,1040.2"/>
<text x="595.3" y="1044.1" text-anchor="middle">37</text>
<!-- 35C label -->
<path style="stroke-width:0.8" class="l" d="M452,863 L502.4,904.1"/>
<text x="439.7" y="863.8" text-anchor="middle">35C</text>
</g>
<g id="p36">
<path class="f" d="M829.2,728 C829.2,725 832,724.3 835.4,724.3 C839,724.3 841.5,725 841.5,728 L841.5,762.8 L833.4,780.8 L830.3,1037.2 A6.1,3 0 0 1 818.1,1037.2 L821.4,779.3 L829.2,758.3 Z"/>
<ellipse class="l" cx="824.2" cy="1037.2" rx="6.1" ry="2.9"/>
<path style="stroke-width:0.9" class="l" d="M833.0,817.1 h-6.6 M832.9,825.0 h-3.6 M832.8,832.8 h-6.6 M832.7,840.7 h-3.6 M832.6,848.5 h-6.6 M832.5,856.4 h-3.6 M832.4,864.2 h-6.6 M832.3,872.1 h-3.6 M832.2,879.9 h-6.6 M832.1,887.8 h-3.6 M832.0,895.6 h-6.6 M831.9,903.5 h-3.6 M831.8,911.3 h-6.6 M831.7,919.2 h-3.6 M831.6,927.0 h-6.6 M831.5,934.9 h-3.6 M831.4,942.7 h-6.6 M831.3,950.6 h-3.6 M831.3,958.4 h-6.6 M831.2,966.3 h-3.6 M831.1,974.1 h-6.6 M831.0,982.0 h-3.6 M830.9,989.8 h-6.6 M830.8,997.7 h-3.6 M830.7,1005.5 h-6.6 "/>
<path style="stroke-width:0.8" class="l" d="M768.5,885.1 L819.7,925.5"/>
<text x="760.1" y="885.9" text-anchor="middle">36</text>
</g>


</svg>
</body></html>
